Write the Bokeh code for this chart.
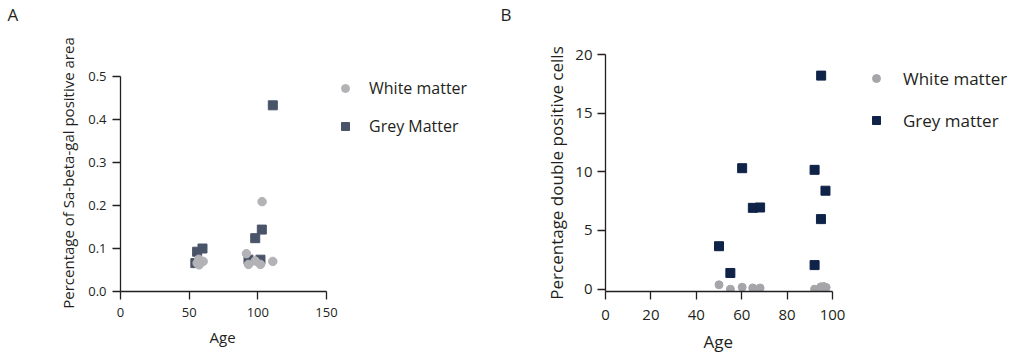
from bokeh.plotting import figure
from bokeh.layouts import row
from bokeh.models import Legend, LegendItem, Title, NumeralTickFormatter, FixedTicker
from bokeh.embed import file_html
from bokeh.resources import INLINE

# ---------------- data ----------------
A_white_age = [55.8, 57.0, 57.3, 60.2, 91.7, 93.2, 98.1, 101.9, 103.1, 110.9]
A_white_val = [0.066, 0.075, 0.062, 0.070, 0.088, 0.063, 0.071, 0.063, 0.209, 0.070]
A_grey_age = [54.5, 55.8, 59.7, 93.2, 98.1, 101.9, 102.9, 110.9]
A_grey_val = [0.066, 0.0925, 0.100, 0.074, 0.124, 0.074, 0.144, 0.433]

B_white_age = [50.0, 55.0, 60.2, 64.9, 68.1, 92.1, 94.9, 96.2, 97.2]
B_white_val = [0.37, 0.0, 0.17, 0.10, 0.10, 0.0, 0.20, 0.22, 0.15]
B_grey_age = [50.0, 55.0, 60.2, 64.9, 68.1, 92.1, 92.1, 95.0, 94.9, 96.9]
B_grey_val = [3.66, 1.38, 10.31, 6.93, 6.96, 2.05, 10.17, 18.2, 5.97, 8.39]

A_xticks = [0, 50, 100, 150]
A_yticks = [0.0, 0.1, 0.2, 0.3, 0.4, 0.5]
B_xticks = [0, 20, 40, 60, 80, 100]
B_yticks = [0, 5, 10, 15, 20]

FONT = "Open Sans"
TXT = "#231f20"
AX = "#231f20"


def style_axes(p, tick_size, label_size):
    for ax in (p.xaxis[0], p.yaxis[0]):
        ax.axis_line_color = AX
        ax.axis_line_width = 1.3
        ax.major_tick_line_color = AX
        ax.major_tick_line_width = 1.3
        ax.major_tick_out = 8
        ax.major_tick_in = 0
        ax.minor_tick_line_color = None
        ax.major_label_text_font = FONT
        ax.major_label_text_font_size = tick_size
        ax.major_label_text_color = TXT
        ax.axis_label_text_font = FONT
        ax.axis_label_text_font_size = label_size
        ax.axis_label_text_font_style = "normal"
        ax.axis_label_text_color = TXT
    p.xgrid.grid_line_color = None
    p.ygrid.grid_line_color = None
    p.outline_line_color = None


def side_text(text, size, offset, standoff, valign):
    return Title(text=text, align="left", offset=offset, standoff=standoff,
                 vertical_align=valign, text_font=FONT, text_font_size=size,
                 text_font_style="normal", text_color=TXT)


# ---------------- panel A ----------------
# the frame reaches right over the legend area; the axes keep their bounds
pA = figure(output_backend="svg", toolbar_location=None,
            x_range=(0, 269.4), y_range=(0, 0.5512),
            width=500, height=361,
            min_border_left=120, min_border_right=10,
            min_border_top=54, min_border_bottom=70)
rAg = pA.scatter(A_grey_age, A_grey_val, marker="square", size=9,
                 fill_color="#4a5468", line_color="#4a5468")
rAw = pA.scatter(A_white_age, A_white_val, marker="circle", size=8.5,
                 fill_color="#b3b3b7", line_color="#b3b3b7")
style_axes(pA, "13px", "15px")
pA.xaxis.ticker = FixedTicker(ticks=A_xticks)
pA.yaxis.ticker = FixedTicker(ticks=A_yticks)
pA.xaxis.bounds = (0, 150)
pA.yaxis.bounds = (0, 0.5)
pA.yaxis.formatter = NumeralTickFormatter(format="0.0")
pA.yaxis.axis_label = "Percentage of Sa-beta-gal positive area"
pA.yaxis.major_label_standoff = 6
pA.xaxis.major_label_standoff = 8
pA.yaxis.axis_label_standoff = 7
pA.add_layout(side_text("Age", "15px", 89, 10, "bottom"), "below")

legA = Legend(items=[LegendItem(label="White matter", renderers=[rAw]),
                     LegendItem(label="Grey Matter", renderers=[rAg])],
              location=(215, 154), margin=0, padding=0,
              glyph_width=20, glyph_height=20, label_height=22,
              label_standoff=14, spacing=16,
              label_text_font=FONT, label_text_font_size="16px",
              label_text_color=TXT,
              border_line_alpha=0, background_fill_alpha=0)
pA.add_layout(legA, "center")
# a blank line next to the frame lifts the panel letter to the top edge
pA.add_layout(side_text(" ", "17px", 0, 0, "top"), "above")
pA.add_layout(side_text("A", "17px", -113, 4, "top"), "above")

# ---------------- panel B ----------------
pB = figure(output_backend="svg", toolbar_location=None,
            x_range=(0, 180.6), y_range=(-0.2, 20),
            width=522, height=361,
            min_border_left=105, min_border_right=7,
            min_border_top=54, min_border_bottom=70)
rBg = pB.scatter(B_grey_age, B_grey_val, marker="square", size=9,
                 fill_color="#0f2348", line_color="#0f2348")
rBw = pB.scatter(B_white_age, B_white_val, marker="circle", size=8,
                 fill_color="#a6a6aa", line_color="#a6a6aa")
style_axes(pB, "15px", "17px")
pB.xaxis.ticker = FixedTicker(ticks=B_xticks)
pB.yaxis.ticker = FixedTicker(ticks=B_yticks)
pB.xaxis.bounds = (0, 100)
pB.yaxis.axis_label = "Percentage double positive cells"
pB.yaxis.major_label_standoff = 5
pB.xaxis.major_label_standoff = 10
pB.yaxis.axis_label_standoff = 4
pB.add_layout(side_text("Age", "17px", 98, 11, "bottom"), "below")

legB = Legend(items=[LegendItem(label="White matter", renderers=[rBw]),
                     LegendItem(label="Grey matter", renderers=[rBg])],
              location=(261, 159), margin=0, padding=0,
              glyph_width=20, glyph_height=20, label_height=24,
              label_standoff=17, spacing=18,
              label_text_font=FONT, label_text_font_size="17px",
              label_text_color=TXT,
              border_line_alpha=0, background_fill_alpha=0)
pB.add_layout(legB, "center")
pB.add_layout(side_text(" ", "17px", 0, 0, "top"), "above")
pB.add_layout(side_text("B", "17px", -105, 4, "top"), "above")

layout = row(pA, pB)
open("out.html", "w").write(file_html(layout, INLINE))
